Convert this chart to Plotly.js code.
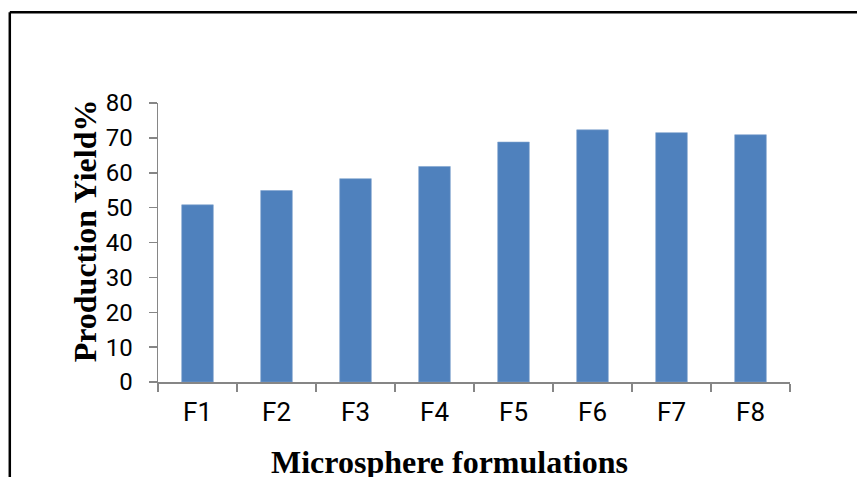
<!DOCTYPE html>
<html>
<head>
<meta charset="utf-8">
<script src="https://cdn.plot.ly/plotly-3.0.1.min.js"></script>
<style>
  html, body { margin: 0; padding: 0; background: #ffffff; }
  #chart { width: 857px; height: 477px; }
</style>
</head>
<body>
<div id="chart"></div>
<script>
// Production yield of each microsphere formulation
const formulations = ['F1', 'F2', 'F3', 'F4', 'F5', 'F6', 'F7', 'F8'];
const yieldPercent = [50.8, 54.9, 58.3, 61.8, 68.8, 72.3, 71.5, 70.9];
const yTicks = [0, 10, 20, 30, 40, 50, 60, 70, 80];

const axisGrey = '#868686';
const tickFont = 'Roboto, Liberation Sans, sans-serif';
const titleFont = 'Liberation Serif, Times New Roman, serif';

const trace = {
  type: 'bar',
  x: formulations,
  y: yieldPercent,
  marker: { color: '#4F81BD', line: { color: '#7fa3cf', width: 0.6 } },
  hoverinfo: 'x+y'
};

const layout = {
  width: 857,
  height: 477,
  margin: { l: 158, r: 67, t: 103, b: 95, pad: 0 },
  paper_bgcolor: '#ffffff',
  plot_bgcolor: '#ffffff',
  showlegend: false,
  bargap: 0.6,
  xaxis: {
    type: 'category',
    showgrid: false,
    zeroline: false,
    showline: true,
    linecolor: axisGrey,
    linewidth: 1.5,
    ticks: 'outside',
    tickson: 'boundaries',
    ticklen: 8,
    tickwidth: 1.5,
    tickcolor: axisGrey,
    ticklabelstandoff: 6,
    tickfont: { family: tickFont, size: 26, color: '#000000' }
  },
  yaxis: {
    range: [0, 80],
    tickvals: yTicks,
    ticktext: yTicks.map(String),
    showgrid: false,
    zeroline: false,
    showline: true,
    linecolor: axisGrey,
    linewidth: 1.5,
    ticks: 'outside',
    ticklen: 8,
    tickwidth: 1.5,
    tickcolor: axisGrey,
    ticklabelstandoff: 11,
    tickfont: { family: tickFont, size: 24, color: '#000000' }
  },
  annotations: [
    {
      text: '<b>Production Yield%</b>',
      xref: 'paper', yref: 'paper',
      x: -0.1155, y: 0.54,
      xanchor: 'center', yanchor: 'middle',
      textangle: -90,
      showarrow: false,
      font: { family: titleFont, size: 32, color: '#000000' }
    },
    {
      text: '<b>Microsphere formulations</b>',
      xref: 'paper', yref: 'paper',
      x: 0.462, y: -0.285,
      xanchor: 'center', yanchor: 'middle',
      showarrow: false,
      font: { family: titleFont, size: 32, color: '#000000' }
    }
  ],
  shapes: [
    // outer frame: top and left edges
    {
      type: 'line', xref: 'paper', yref: 'paper',
      x0: -0.2345, x1: 1.2, y0: 1.325, y1: 1.325,
      line: { color: '#000000', width: 2.5 }
    },
    {
      type: 'line', xref: 'paper', yref: 'paper',
      x0: -0.2345, x1: -0.2345, y0: 1.325, y1: -0.5,
      line: { color: '#000000', width: 2.5 }
    }
  ]
};

Plotly.newPlot('chart', [trace], layout, { displayModeBar: false, staticPlot: true });
</script>
</body>
</html>
